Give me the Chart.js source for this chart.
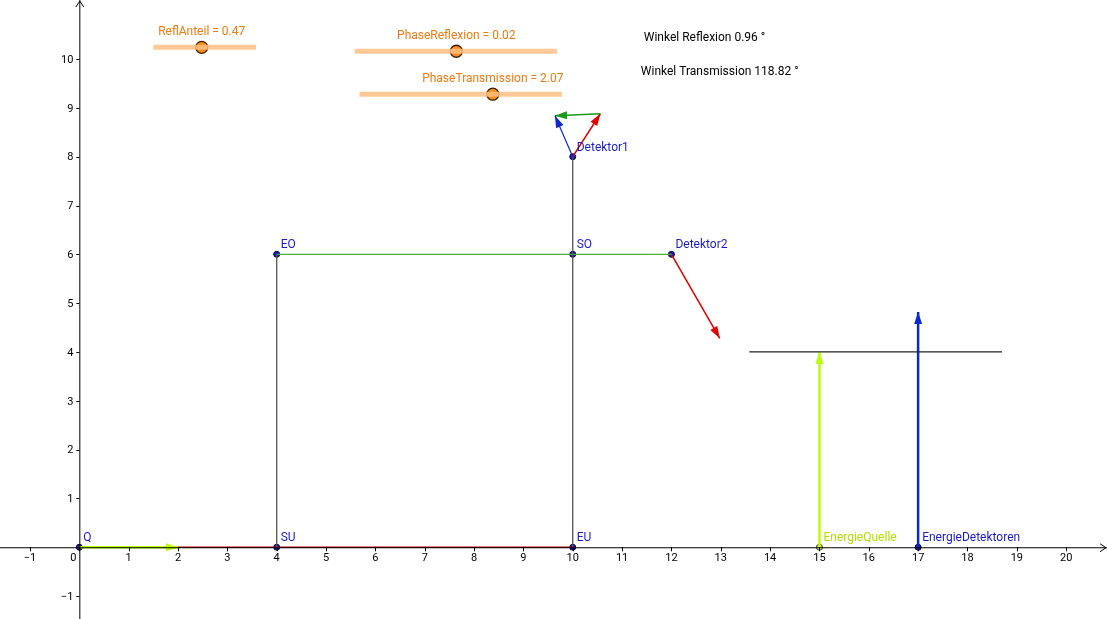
<!DOCTYPE html>
<html>
<head>
<meta charset="utf-8">
<script src="https://cdn.jsdelivr.net/npm/chart.js@4"></script>
<style>
  body { margin: 0; background: #fff; }
  #wrap { width: 1107px; height: 619px; }
</style>
</head>
<body>
<div id="wrap"><canvas id="chart"></canvas></div>
<script>
// named points of the construction
const pointNames = ["Q", "SU", "EU", "EO", "SO", "Detektor1", "Detektor2", "EnergieDetektoren"];
const pointX = [0, 4, 10, 4, 10, 10, 12, 17];
const pointY = [0, 0, 0, 6, 6, 8, 6, 0];

// segments and vectors: [x1, y1, x2, y2]
const grayLines = [[4, 0, 4, 6], [10, 0, 10, 8]];
const greenLine = [4, 6, 12, 6];
const redLine = [2, 0, 10, 0];
const blackLine = [13.58, 4, 18.7, 4];
const limeVectors = [[0, 0, 2, 0], [15, 0, 15, 4]];
const blueVectors = [[17, 0, 17, 4.82]];
const thinBlueVectors = [[10, 8, 9.64, 8.84]];
const greenVectors = [[10.56, 8.88, 9.64, 8.84]];
const redVectors = [[10, 8, 10.56, 8.88], [12, 6, 12.98, 4.28]];

// sliders: name, value, line start/end x, y, knob x
const sliderLabels = ["ReflAnteil = 0.47", "PhaseReflexion = 0.02", "PhaseTransmission = 2.07"];
const sliderStart = [1.5, 5.58, 5.68];
const sliderEnd = [3.58, 9.68, 9.78];
const sliderY = [10.24, 10.16, 9.28];
const sliderKnob = [2.48, 7.64, 8.38];

const infoTexts = ["Winkel Reflexion 0.96 °", "Winkel Transmission 118.82 °"];
const infoX = [11.44, 11.38];
const infoY = [10.46, 9.76];

const xTicks = [-1, 0, 1, 2, 3, 4, 5, 6, 7, 8, 9, 10, 11, 12, 13, 14, 15, 16, 17, 18, 19, 20];
const yTicks = [-1, 1, 2, 3, 4, 5, 6, 7, 8, 9, 10];

function seg(s, color, width, arrow) {
  return {
    type: "line",
    data: [{ x: s[0], y: s[1] }, { x: s[2], y: s[3] }],
    borderColor: color, borderWidth: width, pointRadius: 0,
    showLine: true, arrow: arrow, fill: false
  };
}

const datasets = [];
grayLines.forEach(s => datasets.push(seg(s, "#555", 1.3, false)));
datasets.push(seg(greenLine, "#4caf30", 1.3, false));
datasets.push(seg(redLine, "#c00000", 1.3, false));
datasets.push(seg(blackLine, "#222", 1.3, false));
limeVectors.forEach(s => datasets.push(seg(s, "#b8ff00", 2.5, true)));
blueVectors.forEach(s => datasets.push(seg(s, "#0a2ad0", 2.5, true)));
thinBlueVectors.forEach(s => datasets.push(seg(s, "#0a2ad0", 1.2, true)));
greenVectors.forEach(s => datasets.push(seg(s, "#1a9a1a", 1.5, true)));
redVectors.forEach(s => datasets.push(seg(s, "#e00000", 1.5, true)));
sliderLabels.forEach((l, i) => datasets.push(seg([sliderStart[i], sliderY[i], sliderEnd[i], sliderY[i]], "rgba(255,190,130,0.85)", 5, false)));
datasets.push({
  type: "scatter",
  data: sliderKnob.map((x, i) => ({ x: x, y: sliderY[i] })),
  pointRadius: 6, pointBackgroundColor: "#ff8c1a", pointBorderColor: "#3a2000",
  pointBorderWidth: 1.3, pointHoverRadius: 6
});
datasets.push({
  type: "scatter",
  data: pointX.map((x, i) => ({ x: x, y: pointY[i] })),
  pointRadius: 3, pointBackgroundColor: "#1a1acc", pointBorderColor: "#000033",
  pointBorderWidth: 1
});
datasets.push({
  type: "scatter",
  data: [{ x: 15, y: 0 }],
  pointRadius: 3, pointBackgroundColor: "#e8ff80", pointBorderColor: "#333",
  pointBorderWidth: 1
});

const fmt = v => (v < 0 ? "\u2212" + (-v) : String(v));

const drawExtras = {
  id: "drawExtras",
  afterDatasetsDraw(c) {
    const ctx = c.ctx, xs = c.scales.x, ys = c.scales.y;
    ctx.save();
    // arrowheads
    c.data.datasets.forEach(ds => {
      if (!ds.arrow) return;
      const a = ds.data[0], b = ds.data[1];
      const x1 = xs.getPixelForValue(a.x), y1 = ys.getPixelForValue(a.y);
      const x2 = xs.getPixelForValue(b.x), y2 = ys.getPixelForValue(b.y);
      const ang = Math.atan2(y2 - y1, x2 - x1), len = 12, w = 4;
      ctx.fillStyle = ds.borderColor;
      ctx.beginPath();
      ctx.moveTo(x2, y2);
      ctx.lineTo(x2 - len * Math.cos(ang) + w * Math.sin(ang), y2 - len * Math.sin(ang) - w * Math.cos(ang));
      ctx.lineTo(x2 - len * Math.cos(ang) - w * Math.sin(ang), y2 - len * Math.sin(ang) + w * Math.cos(ang));
      ctx.closePath();
      ctx.fill();
    });
    // axes, ticks, arrows
    const ox = xs.getPixelForValue(0), oy = ys.getPixelForValue(0);
    ctx.strokeStyle = "#000"; ctx.lineWidth = 1;
    ctx.beginPath();
    ctx.moveTo(0, oy + 0.5); ctx.lineTo(c.width, oy + 0.5);
    ctx.moveTo(ox + 0.5, 0); ctx.lineTo(ox + 0.5, c.height);
    ctx.moveTo(c.width - 7, oy - 3.5); ctx.lineTo(c.width - 1, oy + 0.5); ctx.lineTo(c.width - 7, oy + 4.5);
    ctx.moveTo(ox - 3.5, 7); ctx.lineTo(ox + 0.5, 1); ctx.lineTo(ox + 4.5, 7);
    xTicks.forEach(v => { const p = Math.round(xs.getPixelForValue(v)) + 0.5; ctx.moveTo(p, oy); ctx.lineTo(p, oy + 4); });
    yTicks.forEach(v => { const p = Math.round(ys.getPixelForValue(v)) + 0.5; ctx.moveTo(ox - 3, p); ctx.lineTo(ox, p); });
    ctx.stroke();
    ctx.font = "11px Roboto, sans-serif";
    ctx.fillStyle = "#000";
    ctx.textAlign = "center"; ctx.textBaseline = "top";
    xTicks.forEach(v => {
      const px = v === 0 ? ox - 6 : xs.getPixelForValue(v);
      ctx.fillText(fmt(v), px, oy + 5);
    });
    ctx.textAlign = "right"; ctx.textBaseline = "middle";
    yTicks.forEach(v => ctx.fillText(fmt(v), ox - 6, ys.getPixelForValue(v) + 1));
    // point labels
    ctx.font = "12px Roboto, sans-serif";
    ctx.textAlign = "left";
    ctx.textBaseline = "bottom";
    ctx.fillStyle = "#1a1acc";
    pointNames.forEach((n, i) => {
      ctx.fillText(n, xs.getPixelForValue(pointX[i]) + 4, ys.getPixelForValue(pointY[i]) - 3);
    });
    ctx.fillStyle = "#b0e000";
    ctx.fillText("EnergieQuelle", xs.getPixelForValue(15) + 4, ys.getPixelForValue(0) - 3);
    // slider labels
    ctx.fillStyle = "#f07a10";
    ctx.textAlign = "center";
    sliderLabels.forEach((l, i) => {
      ctx.fillText(l, xs.getPixelForValue(sliderKnob[i]), ys.getPixelForValue(sliderY[i]) - 9);
    });
    ctx.textAlign = "left";
    ctx.fillStyle = "#000";
    infoTexts.forEach((t, i) => {
      ctx.fillText(t, xs.getPixelForValue(infoX[i]), ys.getPixelForValue(infoY[i]) + 7);
    });
    ctx.restore();
  }
};

const hiddenScale = (min, max) => ({
  type: "linear", min: min, max: max, display: false
});

new Chart(document.getElementById("chart"), {
  type: "scatter",
  data: { datasets: datasets },
  options: {
    responsive: true, maintainAspectRatio: false, animation: false,
    layout: { padding: 0 },
    plugins: { legend: { display: false }, tooltip: { enabled: false } },
    scales: {
      x: hiddenScale(-1.46, 20.68),
      y: hiddenScale(-1.32, 11.06)
    }
  },
  plugins: [drawExtras]
});
</script>
</body>
</html>
